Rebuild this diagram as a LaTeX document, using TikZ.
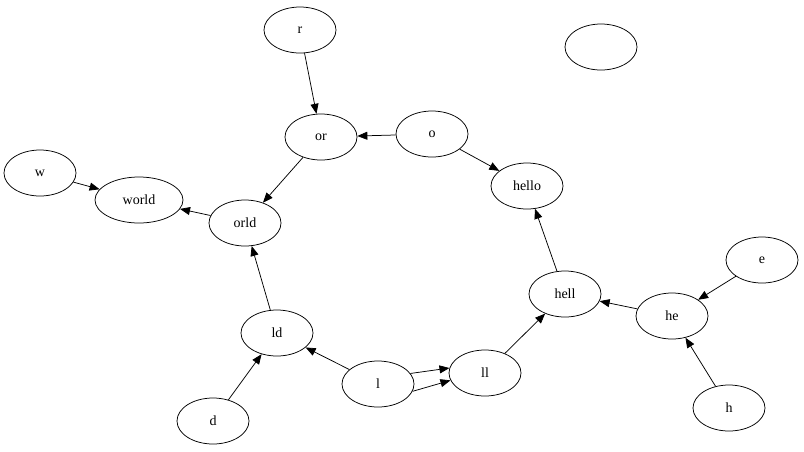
\documentclass[tikz,border=0pt]{standalone}
\usepackage{fontspec}
\setmainfont{Liberation Serif}
\usetikzlibrary{shapes.geometric,arrows.meta}
\tikzset{every picture/.style={line width=0.75pt}}
\tikzset{
  state/.style={draw,ellipse,minimum width=72pt,minimum height=46pt,inner sep=1pt,font=\fontsize{14}{16}\selectfont},
  link/.style={-{Triangle[length=10pt,width=8pt]}}
}
\begin{document}
\begin{tikzpicture}[x=1pt,y=1pt,yscale=-1,xscale=1]
\useasboundingbox (0,0) rectangle (804,451);

% Nodes
\node [state] (r) at (300,30) {r};
\node [state] (or) at (321,137) {or};
\node [state] (o) at (432,134) {o};
\node [state] (hello) at (527,186) {hello};
\node [state] (w) at (40,173) {w};
\node [state,minimum width=88pt] (world) at (139,200) {world};
\node [state] (orld) at (245,223) {orld};
\node [state] (ld) at (277,333) {ld};
\node [state] (d) at (213,421) {d};
\node [state] (l) at (378,384) {l};
\node [state] (ll) at (485,373) {ll};
\node [state] (hell) at (565,294) {hell};
\node [state] (he) at (672,316) {he};
\node [state] (e) at (762,260) {e};
\node [state] (h) at (729,408) {h};
\node [state] (blank) at (601,47) {};

% Edges
\draw [link] (r) -- (or);
\draw [link] (o) -- (or);
\draw [link] (o) -- (hello);
\draw [link] (w) -- (world);
\draw [link] (or) -- (orld);
\draw [link] (orld) -- (world);
\draw [link] (ld) -- (orld);
\draw [link] (d) -- (ld);
\draw [link] (l) -- (ld);
\draw [link] (l.18) -- (ll.172);
\draw [link] (l.-12) -- (ll.-168);
\draw [link] (ll) -- (hell);
\draw [link] (hell) -- (hello);
\draw [link] (he) -- (hell);
\draw [link] (e) -- (he);
\draw [link] (h) -- (he);

\end{tikzpicture}
\end{document}
